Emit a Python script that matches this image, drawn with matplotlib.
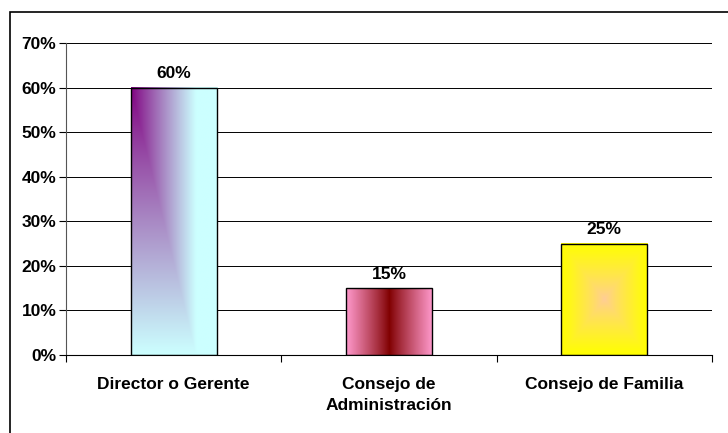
import numpy as np
import matplotlib
matplotlib.use("Agg")
import matplotlib.pyplot as plt
from matplotlib.patches import Rectangle
from matplotlib.colors import to_rgb

categories = ["Director o Gerente", "Consejo de\nAdministración", "Consejo de Familia"]
values = [60, 15, 25]
y_ticks = [0, 10, 20, 30, 40, 50, 60, 70]

plt.rcParams["font.family"] = ["Liberation Sans", "DejaVu Sans"]
plt.rcParams["font.weight"] = "bold"

fig = plt.figure(figsize=(7.28, 4.33), dpi=100)
ax = fig.add_axes([66 / 728, 1 - 355 / 433, (712 - 66) / 728, (355 - 43) / 433])

bar_w = 0.4
x = np.arange(len(categories))


def blend(c0, c1, t):
    c0 = np.array(to_rgb(c0))
    c1 = np.array(to_rgb(c1))
    return c0[None, None, :] * (1 - t[..., None]) + c1[None, None, :] * t[..., None]


n = 200
xf, yd = np.meshgrid(np.linspace(0, 1, n), np.linspace(0, 1, n))  # yd: 0 at top


def grad_diag():
    t = np.clip(np.maximum(xf / 0.75, yd / 1.0), 0, 1)
    t = t ** 0.9
    return blend("#800080", "#CCFFFF", t)


def grad_horiz():
    t = np.abs(xf - 0.5) * 2
    t = t ** 0.9
    return blend("#800000", "#FF99CC", t)


def grad_center():
    t = np.maximum(np.abs(xf - 0.5) * 2, np.abs(yd - 0.5) * 2)
    return blend("#FFCC99", "#FFFF00", t ** 0.8)


fills = [grad_diag(), grad_horiz(), grad_center()]

bars = ax.bar(x, values, width=bar_w, facecolor="none", edgecolor="black",
              linewidth=1.0, zorder=3)
for b, img in zip(bars, fills):
    x0, w, h = b.get_x(), b.get_width(), b.get_height()
    ax.imshow(img, extent=(x0, x0 + w, 0, h), aspect="auto", origin="upper",
              interpolation="bilinear", zorder=2)
    ax.text(x0 + w / 2, h + 1.4, f"{h:.0f}%", ha="center", va="bottom",
            fontsize=12.5, fontweight="bold")

ax.set_xlim(-0.5, len(categories) - 0.5)
ax.set_ylim(0, 70)
ax.set_yticks(y_ticks)
ax.set_yticklabels([f"{v}%" for v in y_ticks], fontsize=12.5, fontweight="bold")
ax.yaxis.grid(True, color="black", linewidth=0.7)
ax.set_axisbelow(True)

ax.set_xticks(x)
ax.set_xticklabels(categories, fontsize=12.5, fontweight="bold", linespacing=1.55)
ax.set_xticks(np.arange(-0.5, len(categories), 1.0), minor=True)
ax.tick_params(axis="x", which="major", length=0, pad=15.5)
ax.tick_params(axis="x", which="minor", length=5, width=0.8, direction="out")
ax.tick_params(axis="y", length=5, width=0.8, direction="out", pad=2)
for lbl in ax.get_xticklabels():
    lbl.set_verticalalignment("top")

for s in ["top", "right"]:
    ax.spines[s].set_visible(False)
ax.spines["left"].set_color("#555555")
ax.spines["bottom"].set_color("black")

fig.patches.append(Rectangle((10 / 728, -0.1), 1.2, 1 - 12 / 433 + 0.1,
                             transform=fig.transFigure, fill=False,
                             edgecolor="black", linewidth=1.2))

fig.savefig("out.png", dpi=100)
